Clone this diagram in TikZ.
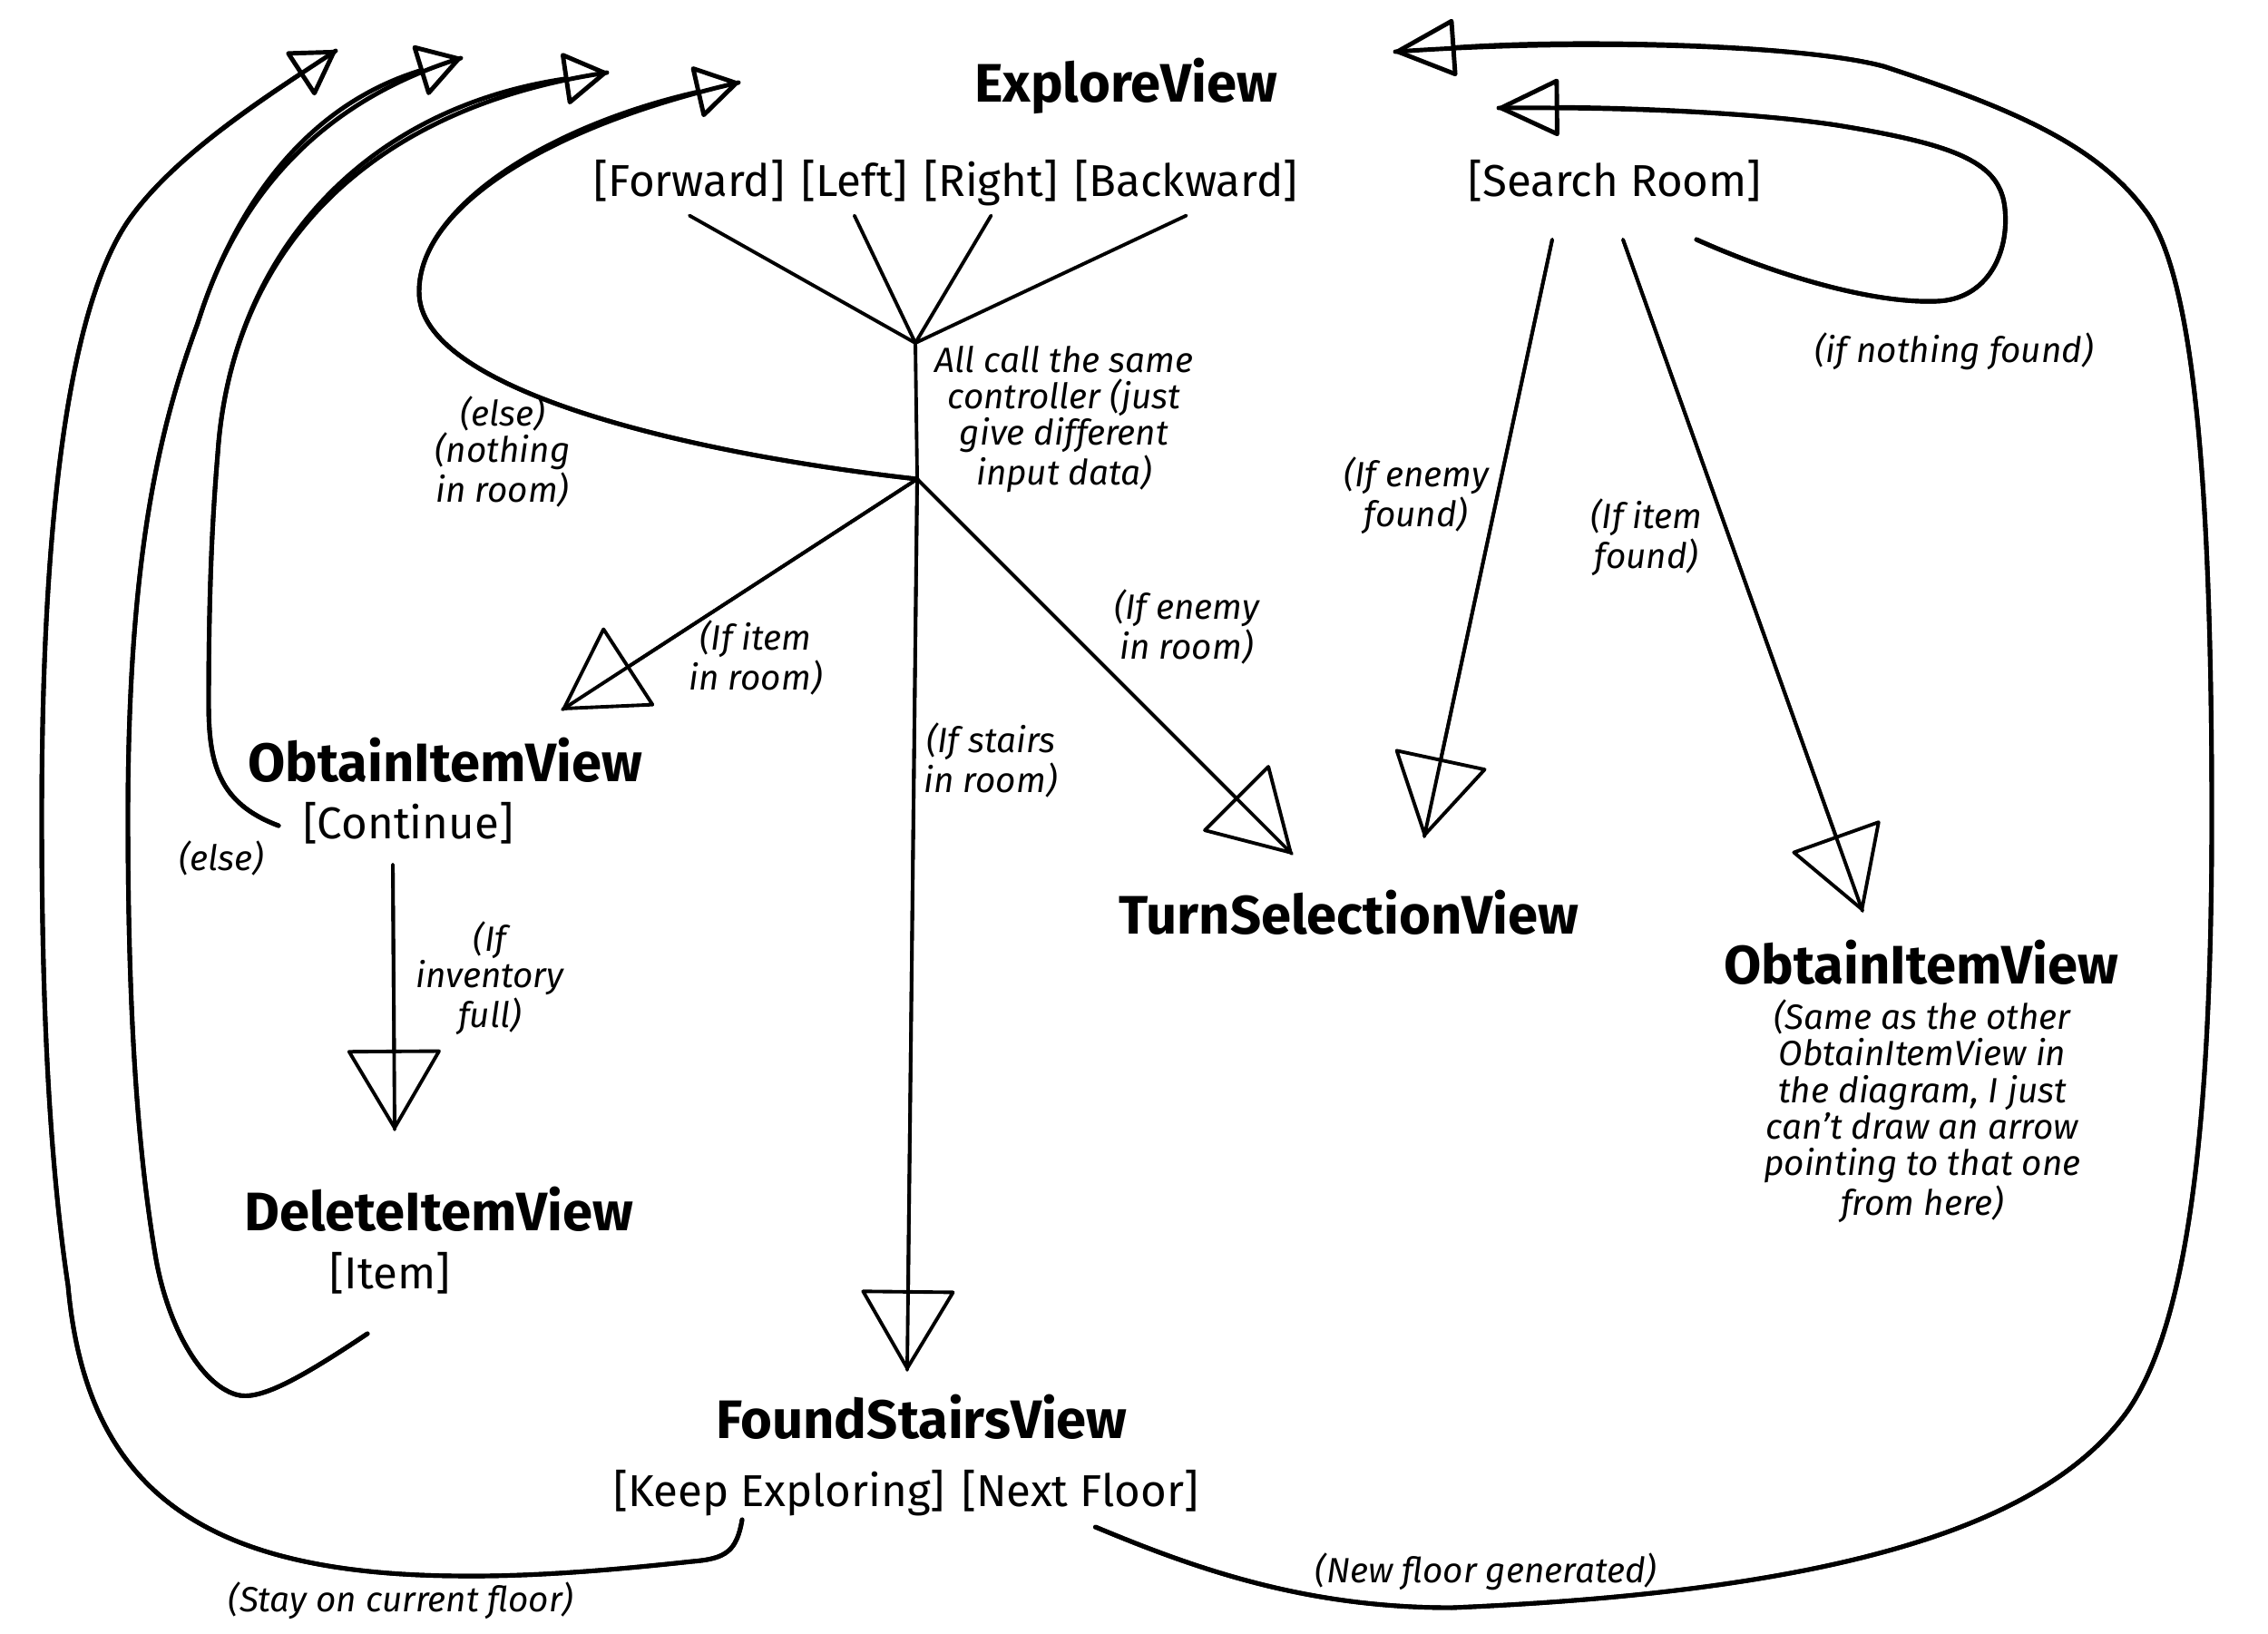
\documentclass[tikz,border=0pt]{standalone}
\usepackage{fontspec}
\setmainfont{Fira Sans}
\usepackage{tikz}
\usetikzlibrary{arrows.meta, positioning}

\begin{document}
\begin{tikzpicture}[x=1cm, y=-1cm,
  title/.style={font=\fontsize{17}{20}\selectfont\bfseries, inner sep=2pt},
  btn/.style={font=\fontsize{14}{17}\selectfont, inner xsep=0pt, inner ysep=3.5pt, text height=0.78em, text depth=0.22em},
  lbl/.style={font=\fontsize{11}{11.4}\selectfont\itshape, align=center, inner sep=1pt},
  wire/.style={line width=1.1pt, line cap=round},
  curve/.style={line width=1.4pt, line cap=round},
  smallhead/.style={postaction={draw, -{Triangle[open, round, length=5mm, width=6mm]}}},
  midhead/.style={postaction={draw, -{Triangle[open, round, length=7mm, width=6.5mm]}}},
  bighead/.style={postaction={draw, -{Triangle[open, round, length=9mm, width=10.5mm]}}}
]
  \useasboundingbox (0,0) rectangle (25,18);

  % explore view and its buttons
  \node[title] (explore) at (12.41,0.95) {ExploreView};
  \node[btn] (fwd) at (7.60,2.07) {[Forward]};
  \node[btn, right=1.7mm of fwd] (lft) {[Left]};
  \node[btn, right=1.7mm of lft] (rgt) {[Right]};
  \node[btn, right=1.7mm of rgt] (bwd) {[Backward]};
  \node[btn] (search) at (17.80,2.07) {[Search Room]};
  \coordinate (hub) at (10.09,3.78);
  \coordinate (jn) at (10.11,5.28);
  \node[lbl] (same) at (11.73,4.62) {All call the same\\controller (just\\give different\\input data)};

  % other views
  \node[title] (obtL) at (4.91,8.38) {ObtainItemView};
  \node[btn] (cont) at (4.50,9.15) {[Continue]};
  \node[title] (delete) at (4.84,13.33) {DeleteItemView};
  \node[btn] (item) at (4.30,14.11) {[Item]};
  \node[title] (stairs) at (10.16,15.62) {FoundStairsView};
  \node[btn] (keep) at (8.59,16.51) {[Keep Exploring]};
  \node[btn, right=1.7mm of keep] (next) {[Next Floor]};
  \node[title] (turn) at (14.87,10.06) {TurnSelectionView};
  \node[title] (obtR) at (21.18,10.61) {ObtainItemView};
  \node[lbl] (obtNote) at (21.19,12.25) {(Same as the other\\ObtainItemView in\\the diagram, I just\\can't draw an arrow\\pointing to that one\\from here)};

  % labels
  \node[lbl] (elseRoom) at (5.54,4.98) {(else)\\(nothing\\in room)};
  \node[lbl] (itemRoom) at (8.33,7.25) {(If item\\in room)};
  \node[lbl] (enemyRoom) at (13.08,6.91) {(If enemy\\in room)};
  \node[lbl] (stairsRoom) at (10.92,8.38) {(If stairs\\in room)};
  \node[lbl] (enemyFound) at (15.61,5.46) {(If enemy\\found)};
  \node[lbl] (itemFound) at (18.15,5.92) {(If item\\found)};
  \node[lbl] (nothing) at (21.54,3.87) {(if nothing found)};
  \node[lbl] (elseCont) at (2.44,9.46) {(else)};
  \node[lbl] (invFull) at (5.40,10.78) {(If\\inventory\\full)};
  \node[lbl] (stay) at (4.42,17.64) {(Stay on current floor)};
  \node[lbl] (newFloor) at (16.38,17.32) {(New floor generated)};

  % arrow ends pointing back at the explore view
  \coordinate (in1) at (3.70,0.56);
  \coordinate (in2) at (5.08,0.64);
  \coordinate (in3) at (6.69,0.80);
  \coordinate (in4) at (8.14,0.91);
  \coordinate (in5) at (15.38,0.57);
  \coordinate (in6) at (16.52,1.19);

  % all buttons call one controller
  \foreach \w in {fwd,lft,rgt,bwd}
    \draw[wire] (\w.south) -- (hub);
  \draw[wire] (hub) -- (jn);

  % outcomes of moving
  \draw[wire, bighead] (jn) -- ([shift={(1.29,-0.56)}]obtL.center);
  \draw[wire, bighead] (jn) -- ([shift={(-0.16,-0.52)}]stairs.center);
  \draw[wire, bighead] (jn) -- ([shift={(-0.63,-0.65)}]turn.center);
  \draw[curve, smallhead] (jn) .. controls (7.6,5.0) and (4.6,4.3) .. (4.62,3.21)
    .. controls (4.62,2.3) and (6.0,1.4) .. (in4);

  % outcomes of searching
  \draw[wire, bighead] ([shift={(-0.69,0.57)}]search.center) -- ([shift={(0.83,-0.84)}]turn.center);
  \draw[wire, bighead] ([shift={(0.09,0.57)}]search.center) -- ([shift={(-0.65,-0.57)}]obtR.center);
  \draw[curve, midhead] ([shift={(0.90,0.57)}]search.center) .. controls (19.5,3.0) and (20.6,3.35) .. (21.35,3.32)
    .. controls (21.9,3.3) and (22.15,2.8) .. (22.10,2.30)
    .. controls (22.05,1.8) and (21.6,1.6) .. (20.25,1.38)
    .. controls (19.2,1.22) and (17.6,1.18) .. (in6);

  % item handling
  \draw[wire, bighead] ([shift={(-0.17,0.38)}]cont.center) -- ([shift={(-0.49,-0.88)}]delete.center);
  \draw[curve, smallhead] ([shift={(-1.43,-0.05)}]cont.center) .. controls (2.40,8.85) and (2.30,8.40) .. (2.30,7.75)
    .. controls (2.30,6.4) and (2.35,5.6) .. (2.40,5.0)
    .. controls (2.55,2.8) and (4.0,1.2) .. (in3);
  \draw[curve, smallhead] ([shift={(-0.25,0.59)}]item.center) .. controls (3.3,15.2) and (2.85,15.45) .. (2.60,15.37)
    .. controls (2.2,15.25) and (1.85,14.6) .. (1.72,13.88)
    .. controls (1.5,12.6) and (1.41,11.0) .. (1.41,9.00)
    .. controls (1.41,6.0) and (1.8,4.6) .. (2.18,3.56)
    .. controls (2.45,2.7) and (3.1,1.25) .. (in2);

  % stairs
  \draw[curve, smallhead] ([shift={(-0.41,0.24)}]keep.center) .. controls (8.12,17.1) and (8.0,17.18) .. (7.63,17.21)
    .. controls (6.8,17.3) and (5.9,17.38) .. (5.05,17.37)
    .. controls (2.2,17.35) and (0.95,16.4) .. (0.75,14.17)
    .. controls (0.5,12.5) and (0.46,10.5) .. (0.46,9.00)
    .. controls (0.46,5.5) and (0.8,3.3) .. (1.43,2.41)
    .. controls (1.9,1.75) and (2.8,1.15) .. (in1);
  \draw[curve, midhead] ([shift={(0.17,0.32)}]next.center) .. controls (13.2,17.3) and (14.4,17.72) .. (16.00,17.72)
    .. controls (20.0,17.55) and (22.5,16.9) .. (23.46,15.54)
    .. controls (24.1,14.6) and (24.38,12.5) .. (24.38,9.00)
    .. controls (24.38,5.5) and (24.2,3.0) .. (23.63,2.30)
    .. controls (23.1,1.6) and (22.2,1.2) .. (20.76,0.73)
    .. controls (19.9,0.5) and (17.5,0.42) .. (in5);
\end{tikzpicture}
\end{document}
